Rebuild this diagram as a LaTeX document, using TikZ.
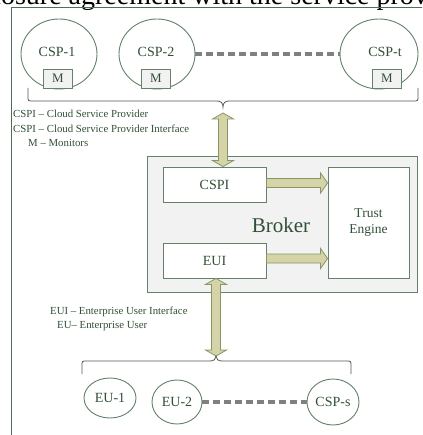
\documentclass[tikz,border=0pt]{standalone}
\usepackage{fontspec}
\setmainfont{Liberation Serif}
\usetikzlibrary{shapes.geometric,calc}
\definecolor{ln}{RGB}{100,130,105}
\definecolor{fr}{RGB}{80,110,85}
\definecolor{tx}{RGB}{50,80,55}
\definecolor{af}{RGB}{212,212,168}
\definecolor{ad}{RGB}{135,150,100}
\definecolor{bg}{RGB}{242,242,242}
\definecolor{dsh}{RGB}{128,128,128}
\definecolor{brc}{RGB}{85,85,85}
\begin{document}
\begin{tikzpicture}[x=1pt,y=-1pt,
  oval/.style={draw=ln,line width=0.9pt,ellipse,inner sep=0pt},
  lbl/.style={text=tx,font=\fontsize{14}{16}\selectfont,inner sep=0pt},
  mbox/.style={draw=ln,fill=bg,line width=0.9pt,minimum width=29pt,minimum height=19pt,inner sep=0pt,text=tx,font=\fontsize{13}{15}\selectfont},
  ibox/.style={draw=ln,fill=white,line width=0.9pt,inner sep=0pt,text=tx,font=\fontsize{14}{16}\selectfont,align=center},
  legendtext/.style={anchor=west,inner sep=0pt,text=tx,font=\fontsize{10.8}{12}\selectfont},
  dashline/.style={draw=dsh,line width=3.6pt,dash pattern=on 7pt off 4pt},
  bracel/.style={draw=brc,line width=0.8pt},
  blk/.style={fill=af,draw=ad,line width=0.8pt}
]
\useasboundingbox (0,0) rectangle (422,435);
\clip (0,0) rectangle (422,435);
\fill[white] (0,0) rectangle (422,435);

% cut-off caption line at top
\node[anchor=base west,inner sep=0pt,font=\fontsize{28}{32}\selectfont] (cap) at (-52,5) {disclosure agreement with the service provider};

% outer frame
\draw[draw=fr,line width=1pt] (11,450) -- (11,8) -- (440,8);

% CSP ellipses
\node[oval,minimum width=76pt,minimum height=70pt] (csp1) at (59,54) {};
\node[oval,minimum width=76pt,minimum height=70pt] (csp2) at (157,54) {};
\node[oval,minimum width=78pt,minimum height=70pt] (cspt) at (379,54) {};
\node[lbl] (csp1l) at (57,52) {CSP-1};
\node[lbl] (csp2l) at (156,52) {CSP-2};
\node[lbl] (csptl) at (385,52) {CSP-t};
\node[mbox] (m1) at (58,78.5) {M};
\node[mbox] (m2) at (156,78.5) {M};
\node[mbox] (m3) at (387,78.5) {M};
\draw[dashline] (csp2.east) -- (cspt.west);

% upper brace
\coordinate (btip) at (223,107);
\draw[bracel] (28,88) -- (28,96) .. controls (28,101) .. (33,101) -- (217,101)
  .. controls (221,101) and (223,103) .. (btip)
  .. controls (223,103) and (225,101) .. (229,101) -- (413,101)
  .. controls (418,101) .. (418,96) -- (418,88);

% upper legend
\node[legendtext] (lg1) at (13,114) {CSPI – Cloud Service Provider};
\node[legendtext] (lg2) at (13,129) {CSPI – Cloud Service Provider Interface};
\node[legendtext] (lg3) at (28,143) {M – Monitors};

% broker
\node[draw=ln,fill=bg,line width=1pt,minimum width=270pt,minimum height=135pt,inner sep=0pt] (broker) at (282,224.5) {};
\node[ibox,minimum width=103pt,minimum height=35pt] (cspi) at (214.5,184.5) {CSPI};
\node[ibox,minimum width=103pt,minimum height=35pt] (eui) at (214.5,260.5) {EUI};
\node[ibox,minimum width=81pt,minimum height=111pt,font=\fontsize{13.5}{16}\selectfont] (trust) at (368.5,222.5) {Trust\\Engine};
\node[text=tx,inner sep=0pt,font=\fontsize{21}{24}\selectfont] (brokerl) at (281,225) {Broker};

% horizontal block arrows
\coordinate (h1a) at ($(cspi.east)+(0,-1.5)$);
\coordinate (h2a) at ($(eui.east)+(0,-2)$);
\path let \p1=(h1a), \p2=(trust.west) in
  [blk] (\x1,\y1+4.5pt) -- (\x2-7pt,\y1+4.5pt) -- (\x2-7pt,\y1+10pt) -- (\x2,\y1)
  -- (\x2-7pt,\y1-10pt) -- (\x2-7pt,\y1-4.5pt) -- (\x1,\y1-4.5pt) -- cycle;
\path let \p1=(h2a), \p2=(trust.west) in
  [blk] (\x1,\y1+4.5pt) -- (\x2-7pt,\y1+4.5pt) -- (\x2-7pt,\y1+10pt) -- (\x2,\y1)
  -- (\x2-7pt,\y1-10pt) -- (\x2-7pt,\y1-4.5pt) -- (\x1,\y1-4.5pt) -- cycle;

% vertical double arrows
\coordinate (ua) at ($(btip)+(0,6)$);
\coordinate (ub) at (cspi.north -| ua);
\path let \p1=(ua), \p2=(ub) in
  [blk] (\x1,\y1) -- (\x1+10.5pt,\y1-6pt) -- (\x1+4.5pt,\y1-6pt) -- (\x1+4.5pt,\y2+6pt)
  -- (\x1+10.5pt,\y2+6pt) -- (\x1,\y2) -- (\x1-10.5pt,\y2+6pt) -- (\x1-4.5pt,\y2+6pt)
  -- (\x1-4.5pt,\y1-6pt) -- (\x1-10.5pt,\y1-6pt) -- cycle;

\coordinate (lbtip) at (216,356);
\coordinate (la) at (eui.south -| lbtip);
\path let \p1=(la), \p2=(lbtip) in
  [blk] (\x1,\y1) -- (\x1+10.5pt,\y1-6pt) -- (\x1+4.5pt,\y1-6pt) -- (\x1+4.5pt,\y2+6pt)
  -- (\x1+10.5pt,\y2+6pt) -- (\x1,\y2) -- (\x1-10.5pt,\y2+6pt) -- (\x1-4.5pt,\y2+6pt)
  -- (\x1-4.5pt,\y1-6pt) -- (\x1-10.5pt,\y1-6pt) -- cycle;

% lower legend
\node[legendtext] (lg4) at (50,312) {EUI – Enterprise User Interface};
\node[legendtext] (lg5) at (57,326) {EU– Enterprise User};

% lower brace
\draw[bracel] (82,374) -- (82,366) .. controls (82,361) .. (87,361) -- (210,361)
  .. controls (214,361) and (216,359) .. (lbtip)
  .. controls (216,359) and (218,361) .. (222,361) -- (346,361)
  .. controls (351,361) .. (351,366) -- (351,374);

% EU ellipses
\node[oval,minimum width=52pt,minimum height=40pt] (eu1) at (110,398) {};
\node[oval,minimum width=50pt,minimum height=44pt] (eu2) at (177,402) {};
\node[oval,minimum width=52pt,minimum height=46pt] (csps) at (333,402) {};
\node[lbl] (eu1l) at (110,398) {EU-1};
\node[lbl] (eu2l) at (177,402) {EU-2};
\node[lbl] (cspsl) at (333,402) {CSP-s};
\draw[dashline] (eu2.east) -- (csps.west);
\end{tikzpicture}
\end{document}
